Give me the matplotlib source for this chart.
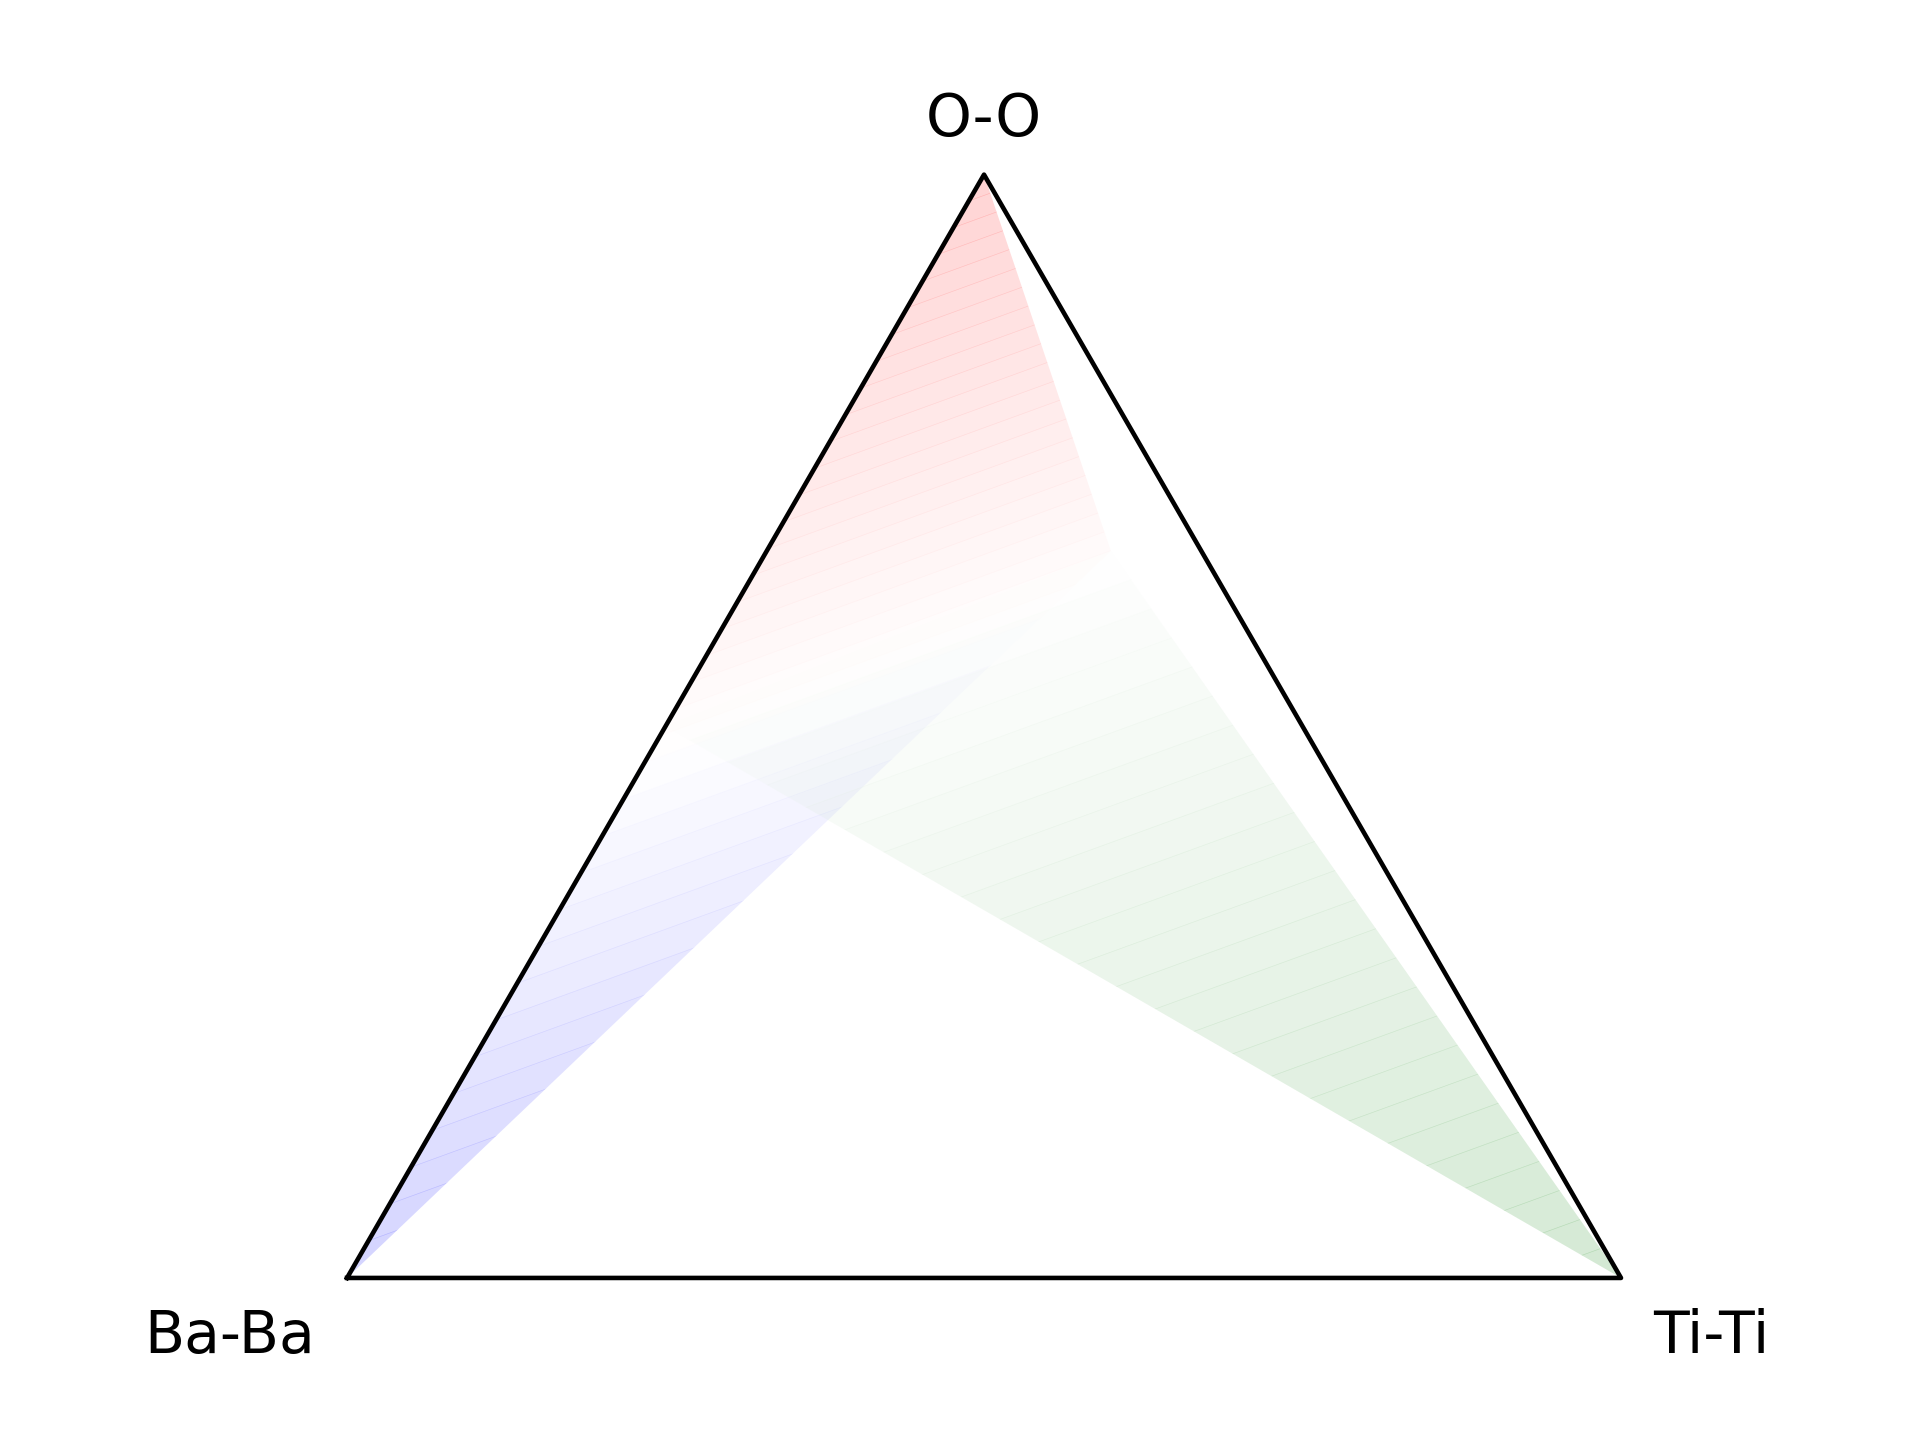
import numpy as np
import matplotlib
matplotlib.use("Agg")
import matplotlib.pyplot as plt
from matplotlib.patches import Polygon
from matplotlib.colors import LinearSegmentedColormap

# corner labels, order (Ba-Ba, Ti-Ti, O-O)
labels = ["Ba-Ba", "Ti-Ti", "O-O"]

# ternary compositions of the region corners
corner_ba = [1.0, 0.0, 0.0]
corner_ti = [0.0, 1.0, 0.0]
corner_o = [0.0, 0.0, 1.0]
split_point = [0.071, 0.270, 0.659]
mid_ba_o = [0.5, 0.0, 0.5]

region_ba_o = [corner_o, split_point, corner_ba]
region_ti = [corner_ti, split_point, mid_ba_o]

# level (along the shading direction) where red turns into blue
white_level = 0.30

ANGLE = np.deg2rad(20)
U = np.array([np.cos(ANGLE), np.sin(ANGLE)])
N = np.array([-np.sin(ANGLE), np.cos(ANGLE)])


def to_xy(comp):
    comp = np.asarray(comp, dtype=float)
    comp = comp / comp.sum(axis=-1, keepdims=True)
    x = comp[:, 1] + comp[:, 2] / 2
    y = comp[:, 2] * np.sqrt(3) / 2
    return np.column_stack([x, y])


def gradient_fill(ax, verts, cmap, t_lo=None, t_hi=None, step=0.0155,
                  alpha=0.17):
    region = Polygon(verts, closed=True, fc="none", ec="none")
    ax.add_patch(region)
    t = verts @ N
    t_lo = t.min() if t_lo is None else t_lo
    t_hi = t.max() if t_hi is None else t_hi
    nb = max(1, int(round((t_hi - t_lo) / step)))
    edges = np.linspace(t_lo, t_hi, nb + 1)
    for i in range(nb):
        t0, t1 = edges[i], edges[i + 1] + 0.0005
        mid = (edges[i] + edges[i + 1]) / 2
        c = cmap((mid - t_lo) / (t_hi - t_lo))
        corners = [-2 * U + N * t0, 2 * U + N * t0, 2 * U + N * t1,
                   -2 * U + N * t1]
        strip = Polygon(corners, closed=True, fc=c, ec="none", alpha=alpha,
                        lw=0)
        ax.add_patch(strip)
        strip.set_clip_path(region)


fig = plt.figure(figsize=(6.4, 4.8), dpi=300)
ax = fig.add_axes([0, 0, 1, 1])

red_cmap = LinearSegmentedColormap.from_list("wr", ["white", "red"])
blue_cmap = LinearSegmentedColormap.from_list("bw", ["blue", "white"])
green_cmap = LinearSegmentedColormap.from_list("gw", ["green", "white"])

xy_bo = to_xy(region_ba_o)
t_bo = xy_bo @ N
gradient_fill(ax, xy_bo, red_cmap, white_level, t_bo.max(), step=0.0155)
gradient_fill(ax, xy_bo, blue_cmap, t_bo.min(), white_level, step=0.0214)
gradient_fill(ax, to_xy(region_ti), green_cmap, step=0.0274)

tri = to_xy([corner_ba, corner_ti, corner_o, corner_ba])
ax.plot(tri[:, 0], tri[:, 1], color="black", lw=1.1)

ax.text(-0.025, -0.059, labels[0], ha="right", va="baseline", fontsize=14)
ax.text(1.025, -0.059, labels[1], ha="left", va="baseline", fontsize=14)
ax.text(0.5, np.sqrt(3) / 2 + 0.03, labels[2], ha="center", va="baseline",
        fontsize=14)

ax.set_xlim(-0.2724, 1.2347)
ax.set_ylim(-0.1272, 1.0031)
ax.axis("off")

fig.savefig("out.png", dpi=300)
